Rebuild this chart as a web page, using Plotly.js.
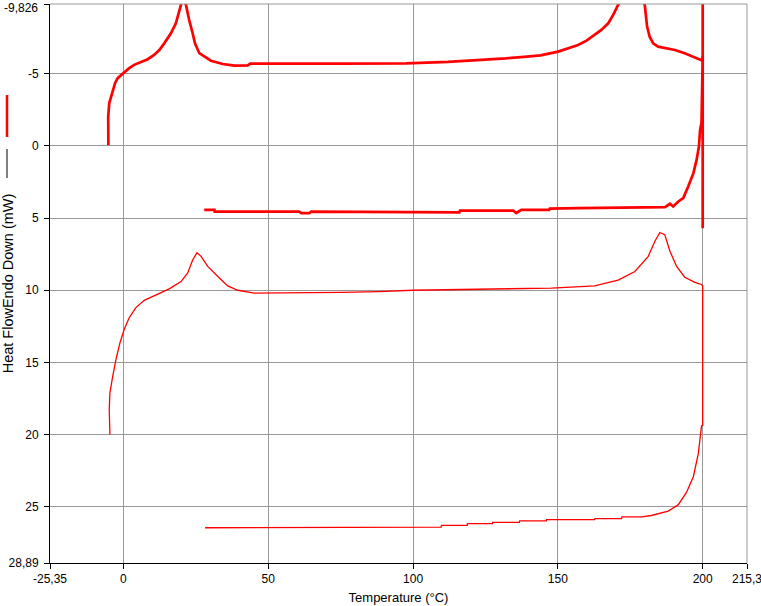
<!DOCTYPE html>
<html>
<head>
<meta charset="utf-8">
<script src="https://cdn.plot.ly/plotly-3.0.1.min.js"></script>
<style>html,body{margin:0;padding:0;background:#fff;}#chart{width:761px;height:606px;}</style>
</head>
<body>
<div id="chart"></div>
<script>
// Heating run 1 (thick)
var tempA = [-5.2, -5.25, -5.25, -4.9, -4.3, -3.7, -2.9, -2.0, 0.07, 2.0, 3.7, 6.0, 8.4, 10.6, 12.4, 14.1, 16.4, 18.1, 18.9, 19.6, 20.6, 21.6, 22.2, 22.7, 23.9, 24.7, 26.2, 27.9, 30.2, 34.3, 38.3, 42.9, 43.8, 75.2, 97.6, 112, 124.6, 132, 138.4, 144, 150.1, 153.5, 157, 159.9, 162.7, 165, 167.4, 169.1, 170.8, 173, 175.5, 178, 180, 180.3, 180.8, 181.7, 182.9, 184.6, 187.5, 190.4, 193.8, 197.3, 199.1, 200, 200];
var hfA   = [-0.05, -1.0, -2.03, -2.95, -3.41, -3.88, -4.34, -4.69, -5.07, -5.38, -5.61, -5.79, -6.0, -6.3, -6.64, -7.1, -7.8, -8.49, -9.07, -9.76, -10.3, -9.76, -9.18, -8.72, -7.8, -7.1, -6.42, -6.18, -5.9, -5.67, -5.56, -5.58, -5.7, -5.7, -5.72, -5.82, -5.95, -6.06, -6.17, -6.27, -6.53, -6.76, -6.99, -7.29, -7.68, -8.03, -8.49, -9.07, -9.76, -10.6, -11.2, -10.6, -9.76, -8.95, -8.26, -7.56, -7.1, -6.87, -6.76, -6.64, -6.42, -6.14, -5.95, -5.9, -11.5];
// Cooling run 1 (thick)
var tempB = [27.9, 31.4, 31.5, 60.7, 61.4, 64.2, 64.8, 72.8, 73, 116, 116.2, 134.6, 135.6, 137.4, 147, 147.2, 157, 187, 188.7, 189.8, 191.6, 193.3, 195, 196.8, 197.9, 198.7, 199.1, 199.6, 200, 200];
var hfB   = [4.43, 4.43, 4.55, 4.55, 4.66, 4.66, 4.55, 4.55, 4.6, 4.6, 4.48, 4.48, 4.65, 4.43, 4.43, 4.34, 4.31, 4.24, 4.01, 4.2, 3.85, 3.62, 2.82, 1.89, 0.97, 0.05, -1.1, -1.6, -6.2, 5.7];
// Heating run 2 (thin)
var tempC = [-4.7, -4.67, -4.9, -4.67, -3.73, -2.59, -1.21, 0.28, 2.0, 4.32, 7.19, 11.8, 15.8, 19.9, 22.2, 23.9, 25.4, 26.8, 29.1, 32.6, 36.0, 39.5, 45.2, 75.2, 88, 100, 120, 140, 147.8, 162.7, 170.8, 176.6, 181.2, 183.5, 185.2, 186.9, 188.7, 191, 193.8, 197.3, 199.6, 200, 200];
var hfC   = [20.0, 19.9, 18.3, 17.1, 16.0, 14.8, 13.65, 12.7, 11.9, 11.2, 10.7, 10.3, 9.9, 9.4, 8.8, 7.9, 7.4, 7.65, 8.35, 9.05, 9.7, 10.0, 10.2, 10.15, 10.1, 10.0, 9.95, 9.9, 9.85, 9.7, 9.3, 8.7, 7.65, 6.6, 6.0, 6.15, 7.3, 8.35, 9.1, 9.45, 9.6, 9.7, 19.4];
// Cooling run 2 (thin)
var tempD = [28.2, 109.7, 109.8, 118.7, 118.8, 127.4, 127.5, 136.7, 136.8, 146, 146.1, 162.7, 162.8, 172, 172.1, 178.9, 182.3, 188.1, 191.6, 194.4, 196.8, 198.5, 199.6, 200];
var hfD   = [26.45, 26.4, 26.28, 26.28, 26.16, 26.16, 26.07, 26.07, 25.97, 25.97, 25.88, 25.88, 25.81, 25.81, 25.7, 25.7, 25.6, 25.3, 24.85, 24.0, 22.9, 21.3, 19.4, 19.3];

var xTickVals = [-25.35, 0, 50, 100, 150, 200, 215.3];
var xTickText = ['-25,35', '0', '50', '100', '150', '200', '215,3'];
var yTickVals = [-9.826, -5, 0, 5, 10, 15, 20, 25, 28.89];
var yTickText = ['-9,826', '-5', '0', '5', '10', '15', '20', '25', '28,89'];

var red = '#ff0000';
var FONT = 'Liberation Sans, Arial, sans-serif';

function tr(x, y, w) {
  return {x: x, y: y, type: 'scatter', mode: 'lines', line: {color: red, width: w}, hoverinfo: 'skip'};
}
var data = [tr(tempA, hfA, 2.7), tr(tempB, hfB, 2.7), tr(tempC, hfC, 1.3), tr(tempD, hfD, 1.3)];

var W = 761, H = 606, ML = 50, MR = 14, MT = 4, MB = 43;
var PW = W - ML - MR, PH = H - MT - MB;
function px2paperX(px) { return (px - ML) / PW; }
function px2paperY(py) { return (H - MB - py) / PH; }

// the top tick label sits at the very edge of the page: draw it as an annotation just inside
var yTickShown = yTickText.slice();
yTickShown[0] = '';

var axisCommon = {
  showgrid: true, gridcolor: '#999999', gridwidth: 1,
  showline: true, linecolor: '#000000', linewidth: 1,
  ticks: 'outside', ticklen: 5, tickcolor: '#000000', tickwidth: 1,
  zeroline: false, automargin: false, tickmode: 'array',
  ticklabeloverflow: 'allow',
  tickfont: {family: FONT, size: 12, color: '#000000'}
};

var layout = {
  width: W, height: H,
  margin: {l: ML, r: MR, t: MT, b: MB, pad: 0},
  paper_bgcolor: '#ffffff', plot_bgcolor: '#ffffff',
  showlegend: false,
  xaxis: Object.assign({}, axisCommon, {
    range: [-25.35, 215.3], tickvals: xTickVals, ticktext: xTickText,
    title: {text: 'Temperature (°C)', font: {family: FONT, size: 13, color: '#000000'}, standoff: 7}
  }),
  yaxis: Object.assign({}, axisCommon, {
    range: [28.89, -9.826], tickvals: yTickVals, ticktext: yTickShown,
    ticklabelstandoff: 3,
    title: {text: '\u00a0\u00a0\u00a0\u00a0Heat FlowEndo Down (mW)', font: {family: FONT, size: 14.5, color: '#000000'}, standoff: 40}
  }),
  annotations: [
    {text: yTickText[0], xref: 'paper', yref: 'paper', x: px2paperX(39.5), y: px2paperY(-1), xanchor: 'right', yanchor: 'top',
     showarrow: false, font: {family: FONT, size: 12, color: '#000000'}}
  ],
  shapes: [
    {type: 'line', xref: 'paper', yref: 'paper', x0: 1, x1: 1, y0: 0, y1: 1, line: {color: '#999999', width: 1}},
    {type: 'line', xref: 'paper', yref: 'paper', x0: 0, x1: 1, y0: 1, y1: 1, line: {color: '#999999', width: 1}},
    {type: 'line', xref: 'paper', yref: 'paper', x0: px2paperX(7), x1: px2paperX(7), y0: px2paperY(95), y1: px2paperY(137), line: {color: red, width: 2.5}},
    {type: 'line', xref: 'paper', yref: 'paper', x0: px2paperX(7), x1: px2paperX(7), y0: px2paperY(149), y1: px2paperY(178), line: {color: '#000000', width: 1}}
  ]
};

Plotly.newPlot('chart', data, layout, {displayModeBar: false, staticPlot: true});
</script>
</body>
</html>
